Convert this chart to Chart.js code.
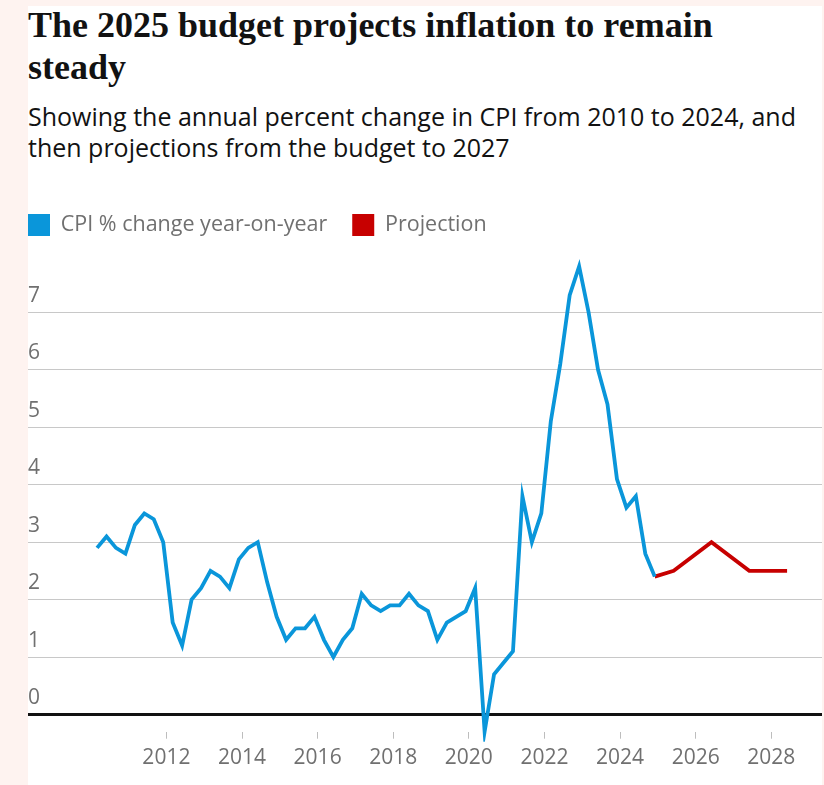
<!DOCTYPE html>
<html>
<head>
<meta charset="utf-8">
<script src="https://cdn.jsdelivr.net/npm/chart.js@4.4.1/dist/chart.umd.min.js"></script>
<style>
  html, body { margin: 0; padding: 0; }
  body { width: 824px; height: 785px; background: #fef3f0; position: relative; overflow: hidden; }
  #panel { position: absolute; left: 28px; top: 6px; width: 794px; height: 779px; background: #fff; }
  #title {
    position: absolute; left: 28px; top: 5px; width: 740px; margin: 0;
    font-family: "Liberation Serif", serif; font-weight: bold; font-size: 36px; line-height: 41.7px;
    color: #121212;
  }
  #subtitle {
    position: absolute; left: 28px; top: 101px; width: 780px; margin: 0;
    font-family: "Open Sans", sans-serif; font-size: 25px; line-height: 30.7px; color: #121212;
  }
  #wrap { position: absolute; left: 3px; top: 189px; width: 819px; height: 596px; }
</style>
</head>
<body>
<div id="panel"></div>
<h1 id="title">The 2025 budget projects inflation to remain steady</h1>
<p id="subtitle">Showing the annual percent change in CPI from 2010 to 2024, and then projections from the budget to 2027</p>
<div id="wrap"><canvas id="chart"></canvas></div>
<script>
'use strict';

// quarterly CPI, year-on-year % change (Mar, Jun, Sep, Dec of each year)
const cpiYears = [2010, 2011, 2012, 2013, 2014, 2015, 2016, 2017, 2018, 2019, 2020, 2021, 2022, 2023, 2024];
const cpiMonths = ['Mar', 'Jun', 'Sep', 'Dec'];
const cpiValues = [
  2.9, 3.1, 2.9, 2.8,
  3.3, 3.5, 3.4, 3.0,
  1.6, 1.2, 2.0, 2.2,
  2.5, 2.4, 2.2, 2.7,
  2.9, 3.0, 2.3, 1.7,
  1.3, 1.5, 1.5, 1.7,
  1.3, 1.0, 1.3, 1.5,
  2.1, 1.9, 1.8, 1.9,
  1.9, 2.1, 1.9, 1.8,
  1.3, 1.6, 1.7, 1.8,
  2.2, -0.3, 0.7, 0.9,
  1.1, 3.8, 3.0, 3.5,
  5.1, 6.1, 7.3, 7.8,
  7.0, 6.0, 5.4, 4.1,
  3.6, 3.8, 2.8, 2.4
];

// budget projections
const projDates = ['Dec 2024', 'Jun 2025', 'Jun 2026', 'Jun 2027', 'Jun 2028'];
const projValues = [2.4, 2.5, 3.0, 2.5, 2.5];

const yTicks = [0, 1, 2, 3, 4, 5, 6, 7];
const xTicks = [2012, 2014, 2016, 2018, 2020, 2022, 2024, 2026, 2028];

const monthNames = ['Jan', 'Feb', 'Mar', 'Apr', 'May', 'Jun', 'Jul', 'Aug', 'Sep', 'Oct', 'Nov', 'Dec'];
function toYear(label) {
  const [m, y] = label.split(' ');
  return Number(y) + monthNames.indexOf(m) / 12;
}

const cpiLabels = cpiYears.flatMap(y => cpiMonths.map(m => `${m} ${y}`));
const cpiPoints = cpiLabels.map((l, i) => ({ x: toYear(l), y: cpiValues[i] }));
const projPoints = projDates.map((l, i) => ({ x: toYear(l), y: projValues[i] }));

const BLUE = '#0a96da';
const RED = '#c70000';
const GREY = '#707070';

// push the plot area down a little below the legend
const legendGap = {
  id: 'legendGap',
  beforeInit(chart) {
    if (!chart.legend) return;
    const fit = chart.legend.fit;
    chart.legend.fit = function() {
      fit.bind(chart.legend)();
      this.height += 9;
    };
  }
};

new Chart(document.getElementById('chart'), {
  type: 'line',
  data: {
    datasets: [{
      label: 'CPI % change year-on-year',
      data: cpiPoints,
      borderColor: BLUE,
      backgroundColor: BLUE,
      borderWidth: 3.8,
      pointRadius: 0,
      tension: 0,
      clip: 10
    }, {
      label: 'Projection',
      data: projPoints,
      borderColor: RED,
      backgroundColor: RED,
      borderWidth: 3.8,
      pointRadius: 0,
      tension: 0,
      clip: 10
    }]
  },
  options: {
    responsive: true,
    maintainAspectRatio: false,
    animation: false,
    layout: { padding: 0 },
    plugins: {
      legend: {
        display: true,
        position: 'top',
        align: 'start',
        labels: {
          boxWidth: 22,
          boxHeight: 22,
          padding: 25,
          color: GREY,
          font: { family: 'Open Sans', size: 21.5 },
          generateLabels: (chart) => chart.data.datasets.map((ds, i) => ({
            text: ds.label,
            fillStyle: ds.borderColor,
            strokeStyle: ds.borderColor,
            lineWidth: 0,
            fontColor: GREY,
            hidden: false,
            datasetIndex: i
          }))
        }
      },
      tooltip: { enabled: false }
    },
    scales: {
      x: {
        type: 'linear',
        min: 2008.34,
        max: 2029.34,
        afterBuildTicks: (scale) => { scale.ticks = xTicks.map(v => ({ value: v })); },
        afterFit: (scale) => { scale.height = 53.3; },
        grid: {
          drawOnChartArea: false,
          drawTicks: true,
          tickLength: 7,
          color: '#bdbdbd',
          lineWidth: 1
        },
        border: { display: false },
        ticks: {
          padding: 7,
          color: GREY,
          maxRotation: 0,
          font: { family: 'Open Sans', size: 21 },
          callback: (v) => String(v)
        }
      },
      y: {
        type: 'linear',
        min: -0.3,
        max: 8,
        afterBuildTicks: (scale) => { scale.ticks = yTicks.map(v => ({ value: v })); },
        afterFit: (scale) => { scale.width = 25; },
        grid: {
          drawTicks: false,
          color: (ctx) => ctx.tick && ctx.tick.value === 0 ? '#121212' : '#c8c8c8',
          lineWidth: (ctx) => ctx.tick && ctx.tick.value === 0 ? 3 : 1
        },
        border: { display: false },
        ticks: {
          mirror: true,
          padding: 0,
          labelOffset: -16.5,
          color: GREY,
          font: { family: 'Open Sans', size: 21 },
          callback: (v) => String(v)
        }
      }
    }
  },
  plugins: [legendGap]
});
</script>
</body>
</html>
